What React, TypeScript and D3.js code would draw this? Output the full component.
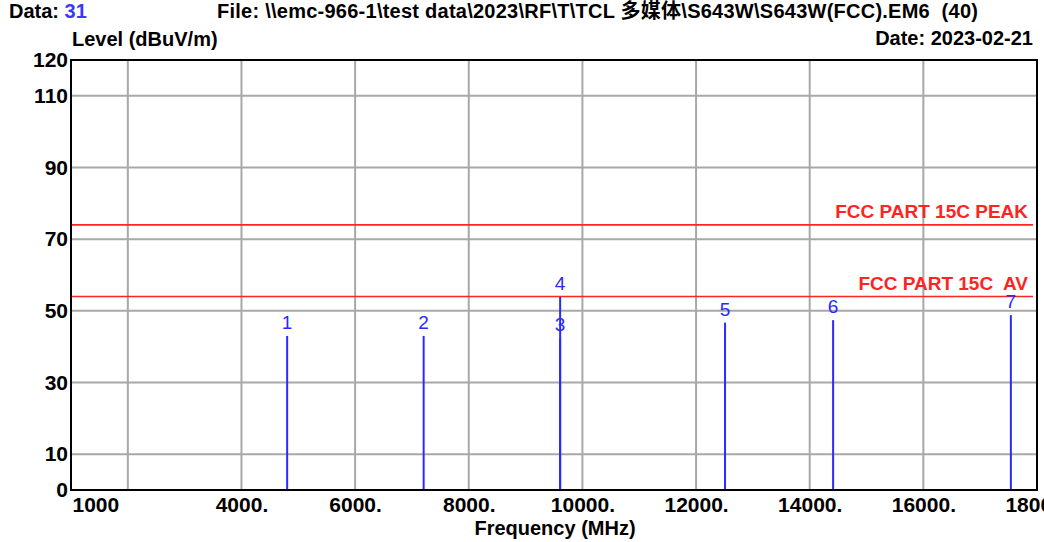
import * as d3 from 'd3'
import { useEffect, useRef } from 'react'

// marker table
const markerNo = ['1', '2', '3', '4', '5', '6', '7']
const markerFreq = [4804, 7206, 9608, 9608, 12510, 14412, 17540]
const markerLevel = [43.0, 43.0, 42.4, 53.9, 46.7, 47.4, 48.8]

const limitNames = ['FCC PART 15C PEAK', 'FCC PART 15C  AV']
const limitLevels = [74, 54]

const xTicks = [1000, 4000, 6000, 8000, 10000, 12000, 14000, 16000, 18000]
const xGrid = [2000, 4000, 6000, 8000, 10000, 12000, 14000, 16000, 18000]
const yTicks = [0, 10, 30, 50, 70, 90, 110, 120]
const yGrid = [10, 30, 50, 70, 90, 110]

const FONT = '"Liberation Sans", Arial, "Noto Sans CJK SC", sans-serif'
const BLUE = '#2a2aff'
const RED = '#ff2424'

const App = () => {
  const ref = useRef<SVGSVGElement>(null)

  useEffect(() => {
    const svg = d3.select(ref.current)
    svg.selectAll('*').remove()

    const left = 71
    const right = 1037
    const top = 60
    const bottom = 490

    const x = d3.scaleLinear().domain([1000, 18000]).range([left, right])
    const y = d3.scaleLinear().domain([0, 120]).range([bottom, top])

    svg
      .append('rect')
      .attr('width', 1044)
      .attr('height', 542)
      .attr('fill', '#fff')

    // grid
    svg
      .append('g')
      .selectAll('line')
      .data(xGrid)
      .enter()
      .append('line')
      .attr('x1', (d) => x(d))
      .attr('x2', (d) => x(d))
      .attr('y1', top)
      .attr('y2', bottom)
      .attr('stroke', '#a8a8a8')
      .attr('stroke-width', 2)

    svg
      .append('g')
      .selectAll('line')
      .data(yGrid)
      .enter()
      .append('line')
      .attr('x1', left)
      .attr('x2', right)
      .attr('y1', (d) => y(d))
      .attr('y2', (d) => y(d))
      .attr('stroke', '#a8a8a8')
      .attr('stroke-width', 2)

    // limit lines
    svg
      .append('g')
      .selectAll('line')
      .data(limitLevels)
      .enter()
      .append('line')
      .attr('x1', left)
      .attr('x2', right - 4)
      .attr('y1', (d) => y(d))
      .attr('y2', (d) => y(d))
      .attr('stroke', RED)
      .attr('stroke-width', 1.6)

    svg
      .append('g')
      .selectAll('text')
      .data(limitLevels)
      .enter()
      .append('text')
      .attr('x', right - 9)
      .attr('y', (d) => y(d) - 7)
      .attr('text-anchor', 'end')
      .attr('fill', RED)
      .style('font', `bold 19px ${FONT}`)
      .style('white-space', 'pre')
      .text((_d, i) => limitNames[i])

    // markers
    const mk = svg.append('g')
    mk.selectAll('line')
      .data(markerFreq)
      .enter()
      .append('line')
      .attr('x1', (d) => x(d))
      .attr('x2', (d) => x(d))
      .attr('y1', bottom)
      .attr('y2', (_d, i) => y(markerLevel[i]))
      .attr('stroke', BLUE)
      .attr('stroke-width', 2)

    mk.selectAll('text')
      .data(markerFreq)
      .enter()
      .append('text')
      .attr('x', (d) => x(d))
      .attr('y', (_d, i) => y(markerLevel[i]) - 7)
      .attr('text-anchor', 'middle')
      .attr('fill', BLUE)
      .style('font', `19px ${FONT}`)
      .text((_d, i) => markerNo[i])

    // frame
    svg
      .append('rect')
      .attr('x', left)
      .attr('y', top)
      .attr('width', right - left)
      .attr('height', bottom - top)
      .attr('fill', 'none')
      .attr('stroke', '#000')
      .attr('stroke-width', 2)

    // axes
    const xAxis = svg
      .append('g')
      .attr('transform', `translate(0,${bottom})`)
      .call(
        d3
          .axisBottom(x)
          .tickValues(xTicks)
          .tickSize(0)
          .tickPadding(7)
          .tickFormat((d) => (+d === 1000 ? '1000' : d + '.'))
      )
    xAxis.select('.domain').remove()
    xAxis
      .selectAll('text')
      .attr('dy', '0.71em')
      .attr('fill', '#000')
      .style('font', `bold 21px ${FONT}`)
      .attr('text-anchor', (d) => (d === 1000 ? 'start' : 'middle'))
      .attr('x', (d) => (d === 1000 ? 1 : 0))

    const yAxis = svg
      .append('g')
      .attr('transform', `translate(${left},0)`)
      .call(d3.axisLeft(y).tickValues(yTicks).tickSize(0).tickPadding(3))
    yAxis.select('.domain').remove()
    yAxis
      .selectAll('text')
      .attr('fill', '#000')
      .style('font', `bold 21px ${FONT}`)

    // titles
    svg
      .append('text')
      .attr('x', 555)
      .attr('y', 535)
      .attr('text-anchor', 'middle')
      .style('font', `bold 20px ${FONT}`)
      .text('Frequency (MHz)')

    svg
      .append('text')
      .attr('x', 72)
      .attr('y', 46)
      .style('font', `bold 20px ${FONT}`)
      .text('Level (dBuV/m)')

    svg
      .append('text')
      .attr('x', 1033)
      .attr('y', 45)
      .attr('text-anchor', 'end')
      .style('font', `bold 20px ${FONT}`)
      .text('Date: 2023-02-21')

    const data = svg
      .append('text')
      .attr('x', 9)
      .attr('y', 18)
      .style('font', `bold 20px ${FONT}`)
    data.append('tspan').text('Data: ')
    data.append('tspan').attr('fill', '#3a3aff').text('31')

    svg
      .append('text')
      .attr('x', 217)
      .attr('y', 18)
      .style('font', `bold 20px ${FONT}`)
      .style('letter-spacing', '0.25px')
      .style('white-space', 'pre')
      .text('File: \\\\emc-966-1\\test data\\2023\\RF\\T\\TCL 多媒体\\S643W\\S643W(FCC).EM6  (40)')
  }, [])

  return (
    <svg
      ref={ref}
      width={1044}
      height={542}
      style={{ position: 'absolute', left: 0, top: 0, display: 'block' }}
    />
  )
}

export default App
